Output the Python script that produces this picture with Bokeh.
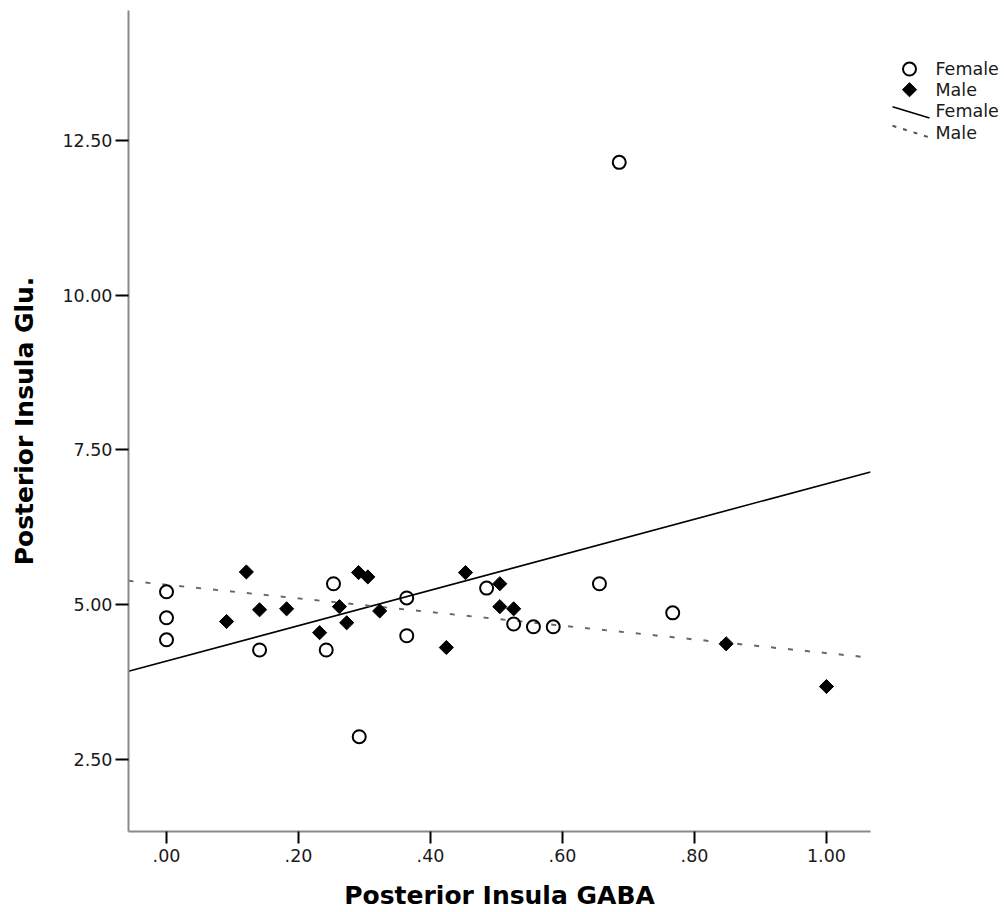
import numpy as np
from bokeh.plotting import figure
from bokeh.models import Range1d, FixedTicker, CustomJSTickFormatter, PrintfTickFormatter
from bokeh.layouts import row
from bokeh.embed import file_html
from bokeh.resources import INLINE
from bokeh.core.properties import value

# ---- data ----
female_x = [0.00, 0.00, 0.00, 0.141, 0.242, 0.253, 0.292, 0.364, 0.364, 0.485,
            0.526, 0.556, 0.586, 0.656, 0.686, 0.767]
female_y = [5.21, 4.79, 4.435, 4.27, 4.27, 5.34, 2.87, 5.11, 4.50, 5.27,
            4.69, 4.645, 4.645, 5.34, 12.145, 4.87]

male_x = [0.091, 0.121, 0.141, 0.182, 0.232, 0.262, 0.273, 0.291, 0.305, 0.323,
          0.424, 0.453, 0.505, 0.505, 0.526, 0.848, 1.00]
male_y = [4.73, 5.53, 4.92, 4.935, 4.55, 4.97, 4.71, 5.52, 5.45, 4.90,
          4.31, 5.52, 5.34, 4.97, 4.935, 4.37, 3.68]

x_ticks = [0.0, 0.2, 0.4, 0.6, 0.8, 1.0]
y_ticks = [2.5, 5.0, 7.5, 10.0, 12.5]
x_title = "Posterior Insula GABA"
y_title = "Posterior Insula Glu."
legend_labels = ["Female", "Male", "Female", "Male"]

X0, X1 = -0.0576, 1.0667
Y0, Y1 = 1.339, 14.597

FONT = "DejaVu Sans"

p = figure(width=880, height=912, x_range=Range1d(X0, X1), y_range=Range1d(Y0, Y1),
           output_backend="svg", toolbar_location=None,
           min_border_left=128, min_border_right=10, min_border_top=10,
           min_border_bottom=80)
p.outline_line_color = None
p.grid.visible = False
p.background_fill_color = "white"
p.border_fill_color = "white"

# fit lines (least squares, over full x extent)
fx = np.array([X0, X1])
f_coef = np.polyfit(female_x, female_y, 1)
m_coef = np.polyfit(male_x, male_y, 1)
p.line(fx, np.polyval(f_coef, fx), line_color="black", line_width=1.6)
p.line(fx, np.polyval(m_coef, fx), line_color="#666666", line_width=2, line_dash="5 12")

p.scatter(female_x, female_y, marker="circle", size=13, line_width=2,
          line_color="black", fill_color=None)
p.scatter(male_x, male_y, marker="square", angle=np.pi / 4, size=10,
          line_color="black", fill_color="black", line_width=1)

for ax in (p.xaxis[0], p.yaxis[0]):
    ax.axis_line_color = "#8a8a8a"
    ax.axis_line_width = 2
    ax.major_tick_line_color = "black"
    ax.major_tick_line_width = 2
    ax.major_tick_in = 0
    ax.minor_tick_in = 0
    ax.minor_tick_out = 0
    ax.major_label_text_font = FONT
    ax.major_label_text_font_size = "17.5px"
    ax.major_label_text_color = "#1a1a1a"
    ax.axis_label_text_font = FONT
    ax.axis_label_text_font_style = "bold"
    ax.axis_label_text_font_size = "25px"
    ax.axis_label_text_color = "black"

p.xaxis.ticker = FixedTicker(ticks=x_ticks)
p.yaxis.ticker = FixedTicker(ticks=y_ticks)
p.xaxis.formatter = CustomJSTickFormatter(
    code="var s = tick.toFixed(2); return s.charAt(0) == '0' ? s.slice(1) : s;")
p.yaxis.formatter = PrintfTickFormatter(format="%.2f")
p.xaxis.major_tick_out = 12
p.xaxis.major_label_standoff = 5
p.yaxis.major_tick_out = 13
p.yaxis.major_label_standoff = 3
p.xaxis.axis_label = x_title
p.yaxis.axis_label = y_title
p.xaxis.axis_label_standoff = 16
p.yaxis.axis_label_standoff = 20

# ---- legend panel (pixel coordinates) ----
lg = figure(width=124, height=912, x_range=Range1d(880, 1004), y_range=Range1d(912, 0),
            output_backend="svg", toolbar_location=None, min_border=0,
            x_axis_location=None, y_axis_location=None)
lg.outline_line_color = None
lg.grid.visible = False
lg.scatter([909], [65], marker="circle", size=13, line_width=2,
           line_color="black", fill_color=None)
lg.scatter([909], [88], marker="square", angle=np.pi / 4, size=10,
           line_color="black", fill_color="black")
lg.line([892, 929], [107, 119.5], line_color="black", line_width=1.6)
lg.line([892, 929], [128, 141], line_color="#555555", line_width=2, line_dash="4 7")
lg.text(x=[935] * 4, y=[65, 88, 112, 136], text=legend_labels,
        text_baseline="middle", text_align="left",
        text_font=value(FONT), text_font_size="17.5px", text_color="#1a1a1a")

layout = row(p, lg, spacing=0)
open("out.html", "w").write(file_html(layout, INLINE))
